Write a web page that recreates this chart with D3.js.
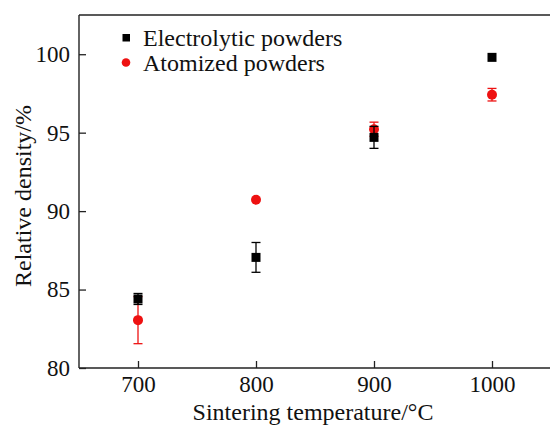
<!DOCTYPE html>
<html lang="en">
<head>
  <meta charset="UTF-8">
  <title>Relative density</title>
  <style>
    body { margin: 0; background: #fff; }
    text { font-family: "Liberation Serif", "Times New Roman", serif; fill: #111; }
  </style>
</head>
<body>
<div id="chart"></div>
<script src="https://d3js.org/d3.v7.min.js"></script>
<script type="text/javascript">
  // sintering temperatures
  const temps = [700, 800, 900, 1000];
  // electrolytic powders: mean and error
  const electroVals = [84.4, 87.05, 94.7, 99.8];
  const electroErr = [0.35, 0.95, 0.7, 0];
  // atomized powders: mean and error
  const atomVals = [83.05, 90.72, 95.22, 97.42];
  const atomErr = [1.5, 0, 0.45, 0.4];
  const xTicks = [700, 800, 900, 1000];
  const yTicks = [80, 85, 90, 95, 100];

  const W = 550, H = 426;
  const svg = d3.select('#chart').append('svg')
    .attr('width', W).attr('height', H);

  const x = d3.scaleLinear().domain([650, 1050]).range([79, 551]);
  const y = d3.scaleLinear().domain([80, 102.5]).range([368, 15]);

  // frame (right edge is cropped off in the original)
  const frame = svg.append('g').attr('stroke', '#222');
  frame.append('line').attr('x1', 79).attr('x2', 79).attr('y1', 15).attr('y2', 368).attr('stroke-width', 1.4);
  frame.append('line').attr('x1', 79).attr('x2', 551).attr('y1', 368).attr('y2', 368).attr('stroke-width', 1.4);
  frame.append('line').attr('x1', 79).attr('x2', 551).attr('y1', 15).attr('y2', 15).attr('stroke-width', 1.7);

  const xAxis = svg.append('g').attr('transform', 'translate(0,368)')
    .call(d3.axisBottom(x).tickValues(xTicks).tickFormat(d3.format('d'))
      .tickSizeInner(-7).tickSizeOuter(0).tickPadding(8));
  const yAxis = svg.append('g').attr('transform', 'translate(79,0)')
    .call(d3.axisLeft(y).tickValues(yTicks).tickFormat(d3.format('d'))
      .tickSizeInner(-7).tickSizeOuter(0).tickPadding(9));
  [xAxis, yAxis].forEach(a => {
    a.select('.domain').remove();
    a.selectAll('line').attr('stroke', '#222').attr('stroke-width', 1.3);
    a.selectAll('text').style('font-size', '23px')
      .style('font-family', '"Liberation Serif", "Times New Roman", serif').attr('fill', '#111');
  });

  // axis titles
  svg.append('text').attr('x', 313).attr('y', 420).attr('text-anchor', 'middle')
    .style('font-size', '24px').text('Sintering temperature/°C');
  svg.append('text').attr('transform', 'translate(31,196) rotate(-90)').attr('text-anchor', 'middle')
    .style('font-size', '24px').text('Relative density/%');

  function drawSeries(vals, errs, color, shape) {
    const g = svg.append('g');
    temps.forEach((t, i) => {
      const cx = x(t), cy = y(vals[i]);
      if (errs[i] > 0) {
        const y1 = y(vals[i] + errs[i]), y2 = y(vals[i] - errs[i]);
        g.append('line').attr('x1', cx).attr('x2', cx).attr('y1', y1).attr('y2', y2)
          .attr('stroke', color).attr('stroke-width', 1.3);
        [y1, y2].forEach(yy => g.append('line').attr('x1', cx - 4.5).attr('x2', cx + 4.5)
          .attr('y1', yy).attr('y2', yy).attr('stroke', color).attr('stroke-width', 1.3));
      }
      if (shape === 'square') {
        g.append('rect').attr('x', cx - 4.5).attr('y', cy - 4.5).attr('width', 9).attr('height', 9)
          .attr('fill', color);
      } else {
        g.append('circle').attr('cx', cx).attr('cy', cy).attr('r', 5).attr('fill', color);
      }
    });
  }

  drawSeries(atomVals, atomErr, '#ee1111', 'circle');
  drawSeries(electroVals, electroErr, '#000', 'square');

  // legend
  const leg = svg.append('g');
  leg.append('rect').attr('x', 122.5).attr('y', 34).attr('width', 7.5).attr('height', 7.5).attr('fill', '#000');
  leg.append('text').attr('x', 143).attr('y', 46).style('font-size', '24px').text('Electrolytic powders');
  leg.append('circle').attr('cx', 126).attr('cy', 62.5).attr('r', 4.3).attr('fill', '#ee1111');
  leg.append('text').attr('x', 143).attr('y', 70.5).style('font-size', '24px').text('Atomized powders');
</script>
</body>
</html>
